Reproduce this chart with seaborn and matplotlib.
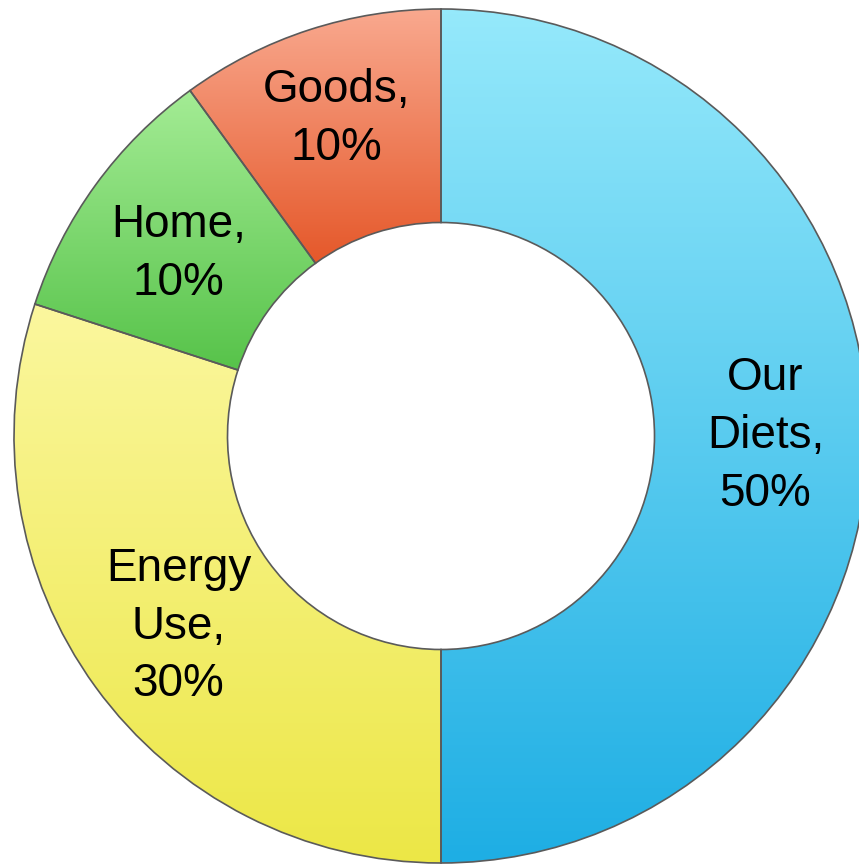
import numpy as np
import matplotlib
matplotlib.use("Agg")
import matplotlib.pyplot as plt
from matplotlib.colors import LinearSegmentedColormap
import seaborn as sns

categories = ["Our Diets", "Energy\nUse", "Home", "Goods"]
values = [50, 30, 10, 10]
top_colors = ["#95e9fb", "#fbf79e", "#a4ec95", "#f9a98f"]
bottom_colors = ["#1eaee4", "#ece746", "#57c34a", "#e5582a"]

sns.set_theme(style="white")
plt.rcParams['font.family'] = ['Liberation Sans', 'DejaVu Sans']

W, H = 859, 866
fig = plt.figure(figsize=(W / 100, H / 100), dpi=100)
r_px = 427
cx, cy = 441, H - 436
ax = fig.add_axes([(cx - r_px) / W, (cy - r_px) / H, 2 * r_px / W, 2 * r_px / H])

labels = []
for c, v in zip(categories, values):
    if c == "Our Diets":
        labels.append("Our\nDiets,\n%d%%" % v)
    else:
        labels.append("%s,\n%d%%" % (c, v))

wedges, texts = ax.pie(values, labels=labels, startangle=90, counterclock=False,
                       radius=1.0, labeldistance=0.76,
                       wedgeprops=dict(width=0.5, edgecolor="#5a5a5a", linewidth=1.2),
                       textprops=dict(ha="center", va="center", fontsize=33,
                                      color="black", linespacing=1.4))

for w, tc, bc in zip(wedges, top_colors, bottom_colors):
    ext = w.get_path().get_extents()
    cmap = LinearSegmentedColormap.from_list("g", [bc, tc])
    grad = np.linspace(0, 1, 256).reshape(-1, 1)
    im = ax.imshow(grad, cmap=cmap, origin="lower", aspect="auto",
                   extent=[ext.x0, ext.x1, ext.y0, ext.y1], zorder=1,
                   interpolation="bilinear")
    im.set_clip_path(w)
    w.set_facecolor("none")
    w.set_zorder(2)

# nudge labels to match the reference placement
gx, gy = texts[3].get_position()
texts[3].set_position((gx * 1.04, gy * 1.04 - 0.01))
hx, hy = texts[2].get_position()
texts[2].set_position((hx, hy - 0.02))
for t in texts:
    t.set_zorder(3)

ax.set_xlim(-1, 1)
ax.set_ylim(-1, 1)
ax.set_aspect("equal")
ax.axis("off")

fig.savefig("out.png", dpi=100)
